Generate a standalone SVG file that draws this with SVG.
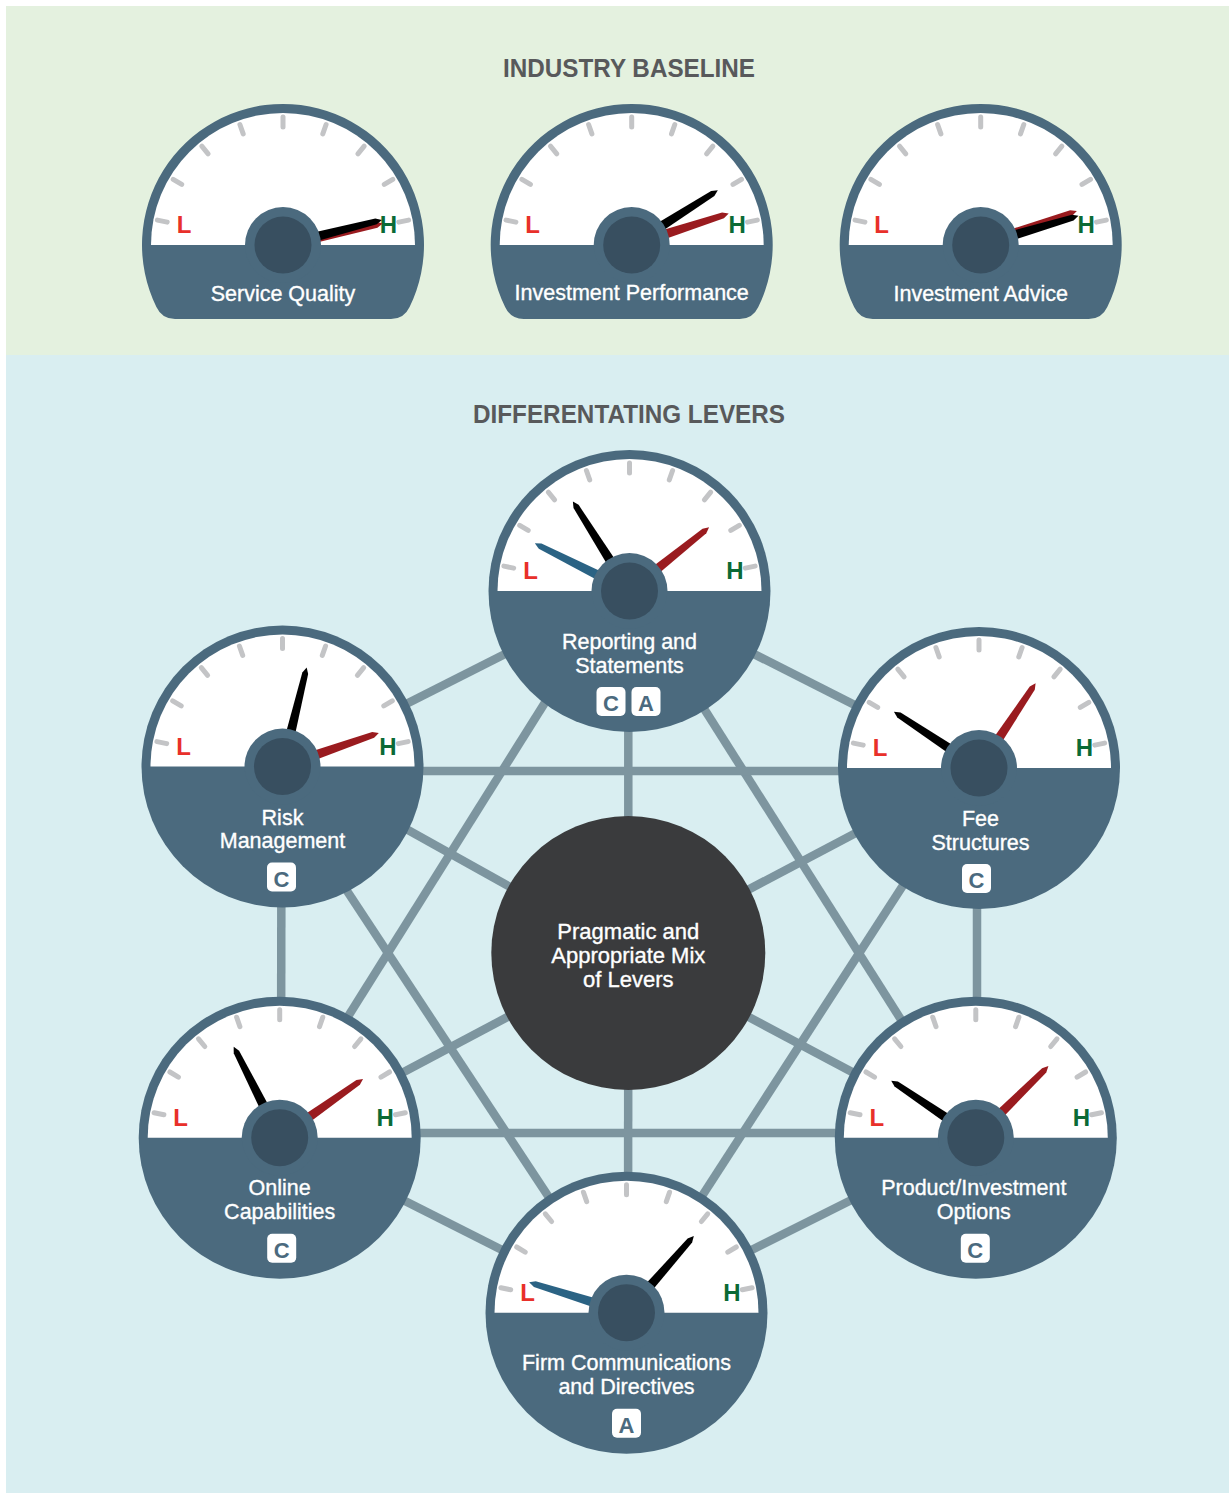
<svg xmlns="http://www.w3.org/2000/svg" xmlns:xlink="http://www.w3.org/1999/xlink" width="1229" height="1495" viewBox="0 0 1229 1495">
<style>
.rim{fill:#4b6a7e}
.hub{fill:#384f60}
.face{fill:#ffffff}
.tick{stroke:#c3c4c6;stroke-width:5;stroke-linecap:round;fill:none}
.lo{font-family:"Liberation Sans",Arial,sans-serif;font-weight:bold;font-size:24px;fill:#e8302a;text-anchor:middle}
.hi{font-family:"Liberation Sans",Arial,sans-serif;font-weight:bold;font-size:24px;fill:#0b6a36;text-anchor:middle}
.lbl{font-family:"Liberation Sans",Arial,sans-serif;font-size:21.5px;fill:#ffffff;stroke:#ffffff;stroke-width:0.35px;text-anchor:middle}
.ctr{font-family:"Liberation Sans",Arial,sans-serif;font-size:22px;fill:#ffffff;stroke:#ffffff;stroke-width:0.35px;text-anchor:middle}
.title{font-family:"Liberation Sans",Arial,sans-serif;font-weight:bold;font-size:25px;fill:#58595b;text-anchor:middle}
.badge{fill:#ffffff}
.btxt{font-family:"Liberation Sans",Arial,sans-serif;font-weight:bold;font-size:22px;fill:#4b6a7e;text-anchor:middle}
.conn{stroke:#7d959f;stroke-width:8.5;fill:none}
.k{fill:#000000}
.r{fill:#9a1b1f}
.b{fill:#2b6384}
</style>
<defs>
<g id="ticks">
<line class="tick" x1="115.8" y1="-22.9" x2="125.6" y2="-24.9"/>
<line class="tick" x1="101.3" y1="-60.6" x2="109.8" y2="-65.7"/>
<line class="tick" x1="74.9" y1="-91.2" x2="81.2" y2="-98.9"/>
<line class="tick" x1="39.8" y1="-111.1" x2="43.1" y2="-120.5"/>
<line class="tick" x1="0" y1="-118" x2="0" y2="-128"/>
<line class="tick" x1="-39.8" y1="-111.1" x2="-43.1" y2="-120.5"/>
<line class="tick" x1="-74.9" y1="-91.2" x2="-81.2" y2="-98.9"/>
<line class="tick" x1="-101.3" y1="-60.6" x2="-109.8" y2="-65.7"/>
<line class="tick" x1="-115.8" y1="-22.9" x2="-125.6" y2="-24.9"/>
</g>
<path id="needle" d="M0 -5.5 L96 -3 L102 0 L96 3 L0 5.5 Z"/>
<path id="needleL" d="M0 -5.5 L100 -3 L106 0 L100 3 L0 5.5 Z"/>
<path id="face" d="M-132 0 A132 132 0 0 1 132 0 Z"/>
<path id="dome" d="M-126.6 62 A141 141 0 1 1 126.6 62 Q121 74 108 74 L-108 74 Q-121 74 -126.6 62 Z"/>
</defs>

<rect x="0" y="0" width="1229" height="1495" fill="#ffffff"/>
<rect x="6" y="6" width="1223" height="349" fill="#e4f1df"/>
<rect x="6" y="355" width="1223" height="1138" fill="#d9eef1"/>

<text class="title" x="629" y="77" textLength="252" lengthAdjust="spacingAndGlyphs">INDUSTRY BASELINE</text>
<text class="title" x="629" y="423" textLength="312" lengthAdjust="spacingAndGlyphs">DIFFERENTATING LEVERS</text>

<g id="gauge-service-quality" transform="translate(283,245)">
<use href="#dome" class="rim"/>
<use href="#face" class="face"/>
<use href="#ticks"/>
<text class="lo" x="-99" y="-12">L</text>
<text class="hi" x="105.5" y="-12">H</text>
<use href="#needle" class="r" transform="rotate(-12.2)"/>
<use href="#needle" class="k" transform="rotate(-14.2)"/>
<circle r="38" class="rim"/>
<circle r="28.5" class="hub"/>
<text class="lbl" x="0" y="56">Service Quality</text>
</g>

<g id="gauge-investment-performance" transform="translate(631.7,245)">
<use href="#dome" class="rim"/>
<use href="#face" class="face"/>
<use href="#ticks"/>
<text class="lo" x="-99" y="-12">L</text>
<text class="hi" x="105.5" y="-12">H</text>
<use href="#needle" class="r" transform="rotate(-18)"/>
<use href="#needle" class="k" transform="rotate(-32.4)"/>
<circle r="38" class="rim"/>
<circle r="28.5" class="hub"/>
<text class="lbl" x="0" y="55">Investment Performance</text>
</g>

<g id="gauge-investment-advice" transform="translate(980.7,245)">
<use href="#dome" class="rim"/>
<use href="#face" class="face"/>
<use href="#ticks"/>
<text class="lo" x="-99" y="-12">L</text>
<text class="hi" x="105.5" y="-12">H</text>
<use href="#needle" class="r" transform="rotate(-19.5)"/>
<use href="#needle" class="k" transform="rotate(-16.6)"/>
<circle r="38" class="rim"/>
<circle r="28.5" class="hub"/>
<text class="lbl" x="0" y="56">Investment Advice</text>
</g>

<g id="connectors">
<line class="conn" x1="629.5" y1="591" x2="282.5" y2="766.5"/>
<line class="conn" x1="629.5" y1="591" x2="979" y2="768"/>
<line class="conn" x1="281.5" y1="766.5" x2="281" y2="1137.7"/>
<line class="conn" x1="977" y1="768" x2="977" y2="1137.7"/>
<line class="conn" x1="279.7" y1="1137.7" x2="626.5" y2="1312.7"/>
<line class="conn" x1="975.8" y1="1137.7" x2="626.5" y2="1312.7"/>
<line class="conn" x1="615" y1="591" x2="272" y2="1137.7"/>
<line class="conn" x1="629.5" y1="591" x2="975.8" y2="1137.7"/>
<line class="conn" x1="279.7" y1="1133" x2="975.8" y2="1133"/>
<line class="conn" x1="282.5" y1="771" x2="979" y2="771"/>
<line class="conn" x1="265" y1="766.5" x2="625" y2="1312.7"/>
<line class="conn" x1="979" y1="768" x2="626.5" y2="1312.7"/>
<line class="conn" x1="628.3" y1="591" x2="628.3" y2="953"/>
<line class="conn" x1="628.3" y1="953" x2="628" y2="1312.7"/>
<line class="conn" x1="628.3" y1="953" x2="282.5" y2="760"/>
<line class="conn" x1="628.3" y1="953" x2="979" y2="768"/>
<line class="conn" x1="628.3" y1="953" x2="279.7" y2="1137.7"/>
<line class="conn" x1="628.3" y1="953" x2="975.8" y2="1137.7"/>
</g>

<g id="node-center">
<circle cx="628.3" cy="953" r="137" fill="#3a3b3d"/>
<text class="ctr" x="628.3" y="938.5">Pragmatic and</text>
<text class="ctr" x="628.3" y="962.5">Appropriate Mix</text>
<text class="ctr" x="628.3" y="986.5">of Levers</text>
</g>

<g id="node-reporting" transform="translate(629.5,591)">
<circle r="141" class="rim"/>
<use href="#face" class="face"/>
<use href="#ticks"/>
<text class="lo" x="-99" y="-12">L</text>
<text class="hi" x="105.5" y="-12">H</text>
<use href="#needleL" class="b" transform="rotate(-153.3)"/>
<use href="#needleL" class="k" transform="rotate(-122.3)"/>
<use href="#needle" class="r" transform="rotate(-38.7)"/>
<circle r="38" class="rim"/>
<circle r="28.5" class="hub"/>
<text class="lbl" x="0" y="57.5">Reporting and</text>
<text class="lbl" x="0" y="81.5">Statements</text>
<rect class="badge" x="-33" y="96" width="29" height="29" rx="5"/>
<text class="btxt" x="-18.5" y="120">C</text>
<rect class="badge" x="2" y="96" width="29" height="29" rx="5"/>
<text class="btxt" x="16.5" y="120">A</text>
</g>

<g id="node-risk" transform="translate(282.5,766.5)">
<circle r="141" class="rim"/>
<use href="#face" class="face"/>
<use href="#ticks"/>
<text class="lo" x="-99" y="-12">L</text>
<text class="hi" x="105.5" y="-12">H</text>
<use href="#needle" class="k" transform="rotate(-76.3)"/>
<use href="#needle" class="r" transform="rotate(-19.2)"/>
<circle r="38" class="rim"/>
<circle r="28.5" class="hub"/>
<text class="lbl" x="0" y="58">Risk</text>
<text class="lbl" x="0" y="81.5">Management</text>
<rect class="badge" x="-15.5" y="96" width="29" height="29" rx="5"/>
<text class="btxt" x="-1" y="120">C</text>
</g>

<g id="node-fee" transform="translate(979,768)">
<circle r="141" class="rim"/>
<use href="#face" class="face"/>
<use href="#ticks"/>
<text class="lo" x="-99" y="-12">L</text>
<text class="hi" x="105.5" y="-12">H</text>
<use href="#needle" class="k" transform="rotate(-146.5)"/>
<use href="#needle" class="r" transform="rotate(-56.3)"/>
<circle r="38" class="rim"/>
<circle r="28.5" class="hub"/>
<text class="lbl" x="1.5" y="57.5">Fee</text>
<text class="lbl" x="1.5" y="81.5">Structures</text>
<rect class="badge" x="-17" y="96" width="29" height="29" rx="5"/>
<text class="btxt" x="-2.5" y="120">C</text>
</g>

<g id="node-online" transform="translate(279.7,1137.7)">
<circle r="141" class="rim"/>
<use href="#face" class="face"/>
<use href="#ticks"/>
<text class="lo" x="-99" y="-12">L</text>
<text class="hi" x="105.5" y="-12">H</text>
<use href="#needle" class="k" transform="rotate(-116.8)"/>
<use href="#needle" class="r" transform="rotate(-35.2)"/>
<circle r="38" class="rim"/>
<circle r="28.5" class="hub"/>
<text class="lbl" x="0" y="57.5">Online</text>
<text class="lbl" x="0" y="81.5">Capabilities</text>
<rect class="badge" x="-12.5" y="96" width="29" height="29" rx="5"/>
<text class="btxt" x="2" y="120">C</text>
</g>

<g id="node-product" transform="translate(975.8,1137.7)">
<circle r="141" class="rim"/>
<use href="#face" class="face"/>
<use href="#ticks"/>
<text class="lo" x="-99" y="-12">L</text>
<text class="hi" x="105.5" y="-12">H</text>
<use href="#needle" class="k" transform="rotate(-146)"/>
<use href="#needle" class="r" transform="rotate(-44.6)"/>
<circle r="38" class="rim"/>
<circle r="28.5" class="hub"/>
<text class="lbl" x="-2" y="57.5">Product/Investment</text>
<text class="lbl" x="-2" y="81.5">Options</text>
<rect class="badge" x="-15" y="96" width="29" height="29" rx="5"/>
<text class="btxt" x="-0.5" y="120">C</text>
</g>

<g id="node-firm" transform="translate(626.5,1312.7)">
<circle r="141" class="rim"/>
<use href="#face" class="face"/>
<use href="#ticks"/>
<text class="lo" x="-99" y="-12">L</text>
<text class="hi" x="105.5" y="-12">H</text>
<use href="#needle" class="b" transform="rotate(-162.7)"/>
<use href="#needle" class="k" transform="rotate(-48.7)"/>
<circle r="38" class="rim"/>
<circle r="28.5" class="hub"/>
<text class="lbl" x="0" y="57.5">Firm Communications</text>
<text class="lbl" x="0" y="81.5">and Directives</text>
<rect class="badge" x="-14.5" y="96" width="29" height="29" rx="5"/>
<text class="btxt" x="0" y="120">A</text>
</g>
</svg>
